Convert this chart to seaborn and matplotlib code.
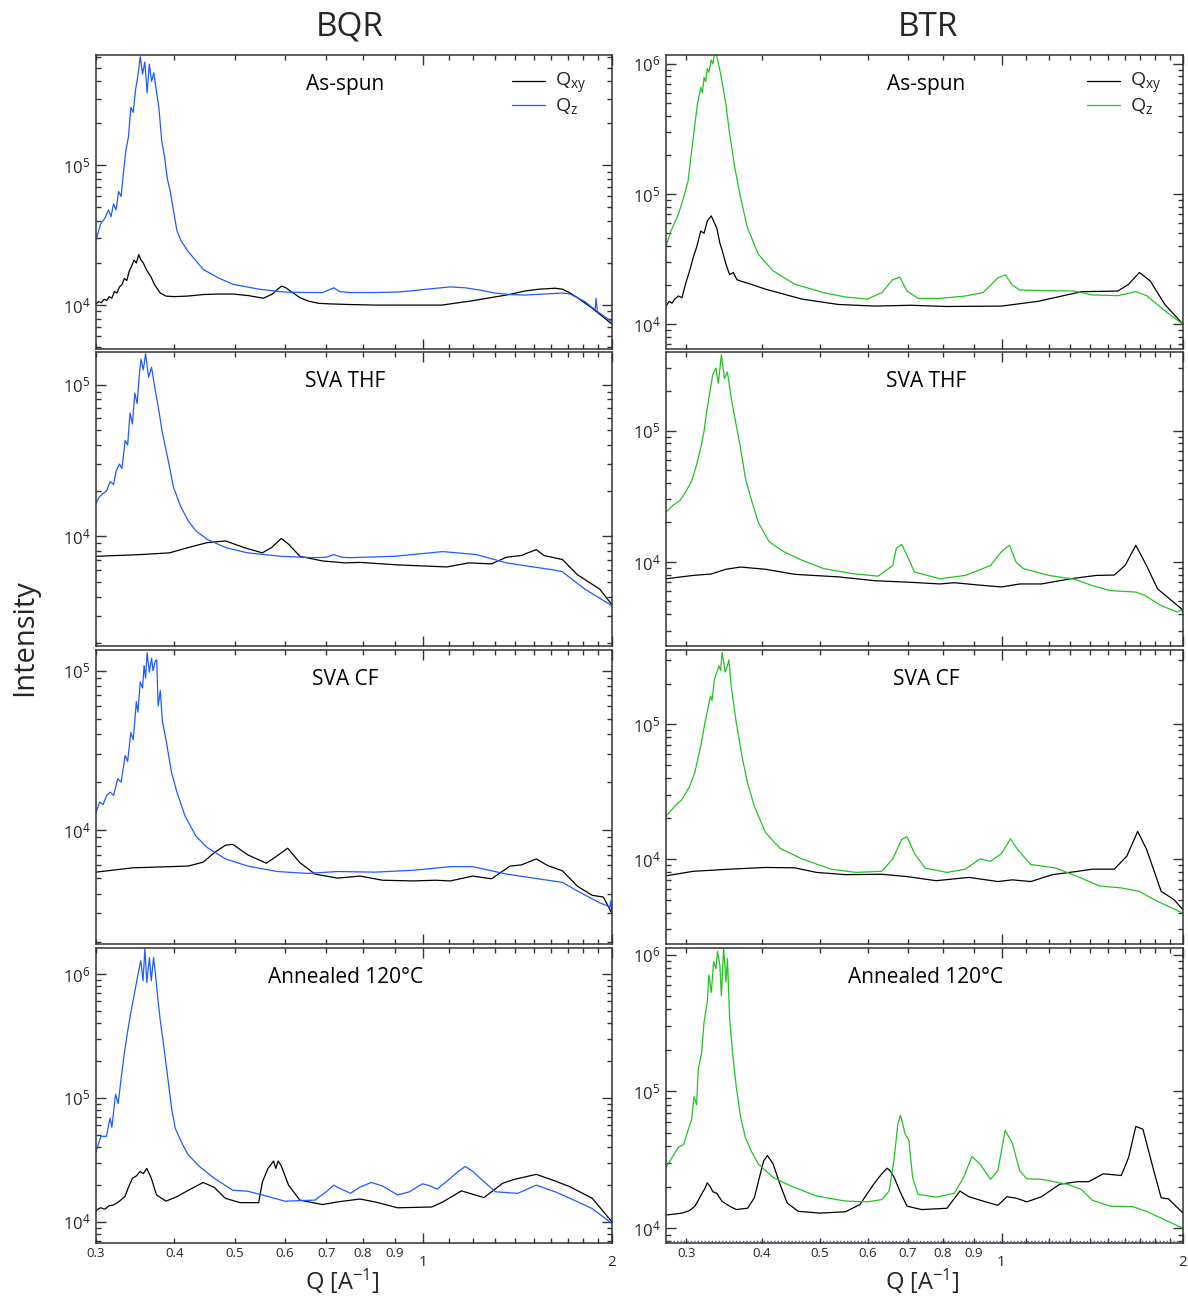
import numpy as np
import pandas as pd
import matplotlib
matplotlib.use('Agg')
import matplotlib.pyplot as plt
import seaborn as sns
from matplotlib.ticker import (FixedLocator, FixedFormatter, LogLocator,
                               NullFormatter, LogFormatterSciNotation)

sns.set_style('ticks')
plt.rcParams['font.family'] = ['Open Sans', 'DejaVu Sans']
plt.rcParams['mathtext.fontset'] = 'custom'
plt.rcParams['mathtext.rm'] = 'Open Sans'
plt.rcParams['mathtext.it'] = 'Open Sans'
plt.rcParams['mathtext.bf'] = 'Open Sans:bold'

# ---------------- data: BQR (left column) ----------------
# As-spun
q1z = [0.300, 0.305, 0.310, 0.314, 0.317, 0.320, 0.323, 0.326, 0.329, 0.332,
       0.335, 0.338, 0.341, 0.344, 0.347, 0.350, 0.353, 0.356, 0.359, 0.362,
       0.365, 0.368, 0.371, 0.375, 0.378, 0.382, 0.386, 0.390, 0.394, 0.399,
       0.404, 0.410, 0.420, 0.445, 0.470, 0.496, 0.546, 0.600, 0.653, 0.690,
       0.705, 0.719, 0.735, 0.760, 0.837, 0.910, 0.963, 1.030, 1.104, 1.166,
       1.232, 1.300, 1.375, 1.453, 1.557, 1.667, 1.714, 1.761, 1.810, 1.860,
       1.880, 1.886, 1.895, 1.938, 2.000]
I1z = [2.9e4, 3.8e4, 4.2e4, 4.8e4, 4.3e4, 5.3e4, 4.8e4, 6.5e4, 6.0e4, 9.0e4,
       1.3e5, 1.6e5, 2.6e5, 2.4e5, 3.5e5, 4.4e5, 6.0e5, 4.5e5, 5.5e5, 3.3e5,
       5.3e5, 4.0e5, 4.6e5, 3.3e5, 2.6e5, 1.5e5, 1.15e5, 8.0e4, 6.6e4, 4.7e4,
       3.4e4, 2.9e4, 2.45e4, 1.8e4, 1.57e4, 1.41e4, 1.3e4, 1.24e4, 1.23e4, 1.23e4,
       1.28e4, 1.33e4, 1.25e4, 1.23e4, 1.23e4, 1.24e4, 1.27e4, 1.31e4, 1.35e4, 1.33e4,
       1.28e4, 1.22e4, 1.19e4, 1.18e4, 1.2e4, 1.22e4, 1.2e4, 1.13e4, 1.06e4, 9.6e3,
       9.3e3, 1.12e4, 9.0e3, 8.4e3, 7.6e3]
q1x = [0.300, 0.303, 0.306, 0.309, 0.312, 0.315, 0.318, 0.321, 0.324, 0.327,
       0.330, 0.333, 0.336, 0.339, 0.342, 0.345, 0.348, 0.351, 0.354, 0.357,
       0.362, 0.367, 0.372, 0.380, 0.388, 0.400, 0.420, 0.445, 0.470, 0.496,
       0.525, 0.555, 0.574, 0.585, 0.594, 0.603, 0.615, 0.635, 0.654, 0.680,
       0.709, 0.760, 0.837, 0.960, 1.070, 1.190, 1.280, 1.370, 1.450, 1.530,
       1.622, 1.667, 1.714, 1.761, 1.860, 2.000]
I1x = [1.02e4, 1.06e4, 1.04e4, 1.1e4, 1.08e4, 1.15e4, 1.12e4, 1.25e4, 1.22e4, 1.35e4,
       1.4e4, 1.55e4, 1.5e4, 1.75e4, 1.9e4, 2.1e4, 2.0e4, 2.3e4, 2.1e4, 2.0e4,
       1.76e4, 1.6e4, 1.4e4, 1.22e4, 1.16e4, 1.15e4, 1.16e4, 1.19e4, 1.2e4, 1.2e4,
       1.17e4, 1.12e4, 1.2e4, 1.3e4, 1.37e4, 1.33e4, 1.25e4, 1.13e4, 1.07e4, 1.03e4,
       1.02e4, 1.01e4, 1.0e4, 1.0e4, 1.0e4, 1.07e4, 1.13e4, 1.19e4, 1.26e4, 1.3e4,
       1.32e4, 1.3e4, 1.22e4, 1.13e4, 9.5e3, 7.3e3]
# SVA THF
q2z = [0.300, 0.303, 0.307, 0.312, 0.316, 0.320, 0.323, 0.327, 0.330, 0.334,
       0.337, 0.340, 0.343, 0.346, 0.349, 0.352, 0.354, 0.357, 0.360, 0.364,
       0.368, 0.372, 0.377, 0.383, 0.391, 0.399, 0.410, 0.421, 0.433, 0.451,
       0.483, 0.524, 0.593, 0.671, 0.700, 0.719, 0.740, 0.760, 0.897, 1.074,
       1.215, 1.357, 1.622, 1.667, 1.810, 2.000]
I2z = [1.64e4, 1.8e4, 1.9e4, 2.0e4, 2.3e4, 2.2e4, 2.7e4, 3.0e4, 2.8e4, 4.3e4,
       4.0e4, 6.5e4, 5.5e4, 8.8e4, 7.5e4, 1.2e5, 1.47e5, 1.25e5, 1.6e5, 1.12e5,
       1.3e5, 9.8e4, 7.2e4, 4.8e4, 3.2e4, 2.1e4, 1.56e4, 1.27e4, 1.09e4, 9.6e3,
       8.45e3, 7.8e3, 7.4e3, 7.25e3, 7.3e3, 7.6e3, 7.3e3, 7.25e3, 7.4e3, 7.95e3,
       7.6e3, 6.7e3, 6.0e3, 5.85e3, 4.5e3, 3.5e3]
q2x = [0.300, 0.353, 0.393, 0.421, 0.451, 0.483, 0.517, 0.553, 0.572, 0.593,
       0.609, 0.635, 0.690, 0.749, 0.792, 0.909, 1.089, 1.182, 1.284, 1.357,
       1.433, 1.514, 1.557, 1.667, 1.761, 1.912, 2.000]
I2x = [7.4e3, 7.6e3, 7.8e3, 8.45e3, 9.1e3, 9.35e3, 8.45e3, 7.8e3, 8.45e3, 9.7e3,
       8.9e3, 7.4e3, 6.9e3, 6.7e3, 6.75e3, 6.5e3, 6.3e3, 6.7e3, 6.6e3, 7.3e3,
       7.5e3, 8.2e3, 7.5e3, 7.05e3, 5.6e3, 4.5e3, 3.55e3]
# SVA CF
q3z = [0.300, 0.304, 0.308, 0.312, 0.316, 0.320, 0.325, 0.329, 0.334, 0.337,
       0.341, 0.344, 0.348, 0.350, 0.353, 0.356, 0.358, 0.360, 0.362, 0.365,
       0.368, 0.370, 0.373, 0.375, 0.377, 0.380, 0.383, 0.388, 0.396, 0.404,
       0.416, 0.433, 0.451, 0.483, 0.524, 0.584, 0.653, 0.729, 0.837, 0.963,
       1.104, 1.198, 1.357, 1.667, 1.761, 1.912, 1.985, 1.990, 2.000]
I3z = [1.29e4, 1.5e4, 1.45e4, 1.65e4, 1.73e4, 1.65e4, 2.1e4, 2.0e4, 2.94e4, 2.7e4,
       4.1e4, 3.7e4, 6.4e4, 5.5e4, 8.5e4, 7.8e4, 1.08e5, 9.0e4, 1.3e5, 9.8e4,
       1.2e5, 1.0e5, 1.15e5, 1.17e5, 6.0e4, 7.5e4, 4.8e4, 3.7e4, 2.3e4, 1.73e4,
       1.23e4, 9.2e3, 7.8e3, 6.6e3, 5.95e3, 5.5e3, 5.35e3, 5.5e3, 5.45e3, 5.6e3,
       5.9e3, 5.9e3, 5.3e3, 4.7e3, 4.15e3, 3.5e3, 3.3e3, 3.6e3, 3.0e3]
q3x = [0.300, 0.343, 0.421, 0.445, 0.463, 0.483, 0.496, 0.524, 0.561, 0.584,
       0.607, 0.635, 0.671, 0.729, 0.792, 0.860, 0.963, 1.045, 1.104, 1.198,
       1.284, 1.375, 1.433, 1.514, 1.578, 1.667, 1.761, 1.860, 1.938, 2.000]
I3x = [5.45e3, 5.8e3, 5.95e3, 6.3e3, 7.2e3, 8.05e3, 8.15e3, 7.0e3, 6.2e3, 6.9e3,
       7.7e3, 6.25e3, 5.3e3, 5.0e3, 5.15e3, 4.85e3, 4.8e3, 4.85e3, 4.8e3, 5.15e3,
       4.95e3, 5.95e3, 6.05e3, 6.6e3, 6.0e3, 5.55e3, 4.45e3, 3.9e3, 3.8e3, 3.0e3]
# Annealed 120 C
q4z = [0.300, 0.3054, 0.3117, 0.316, 0.318, 0.3224, 0.3255, 0.3291, 0.3327, 0.3359,
       0.3405, 0.3454, 0.3502, 0.3537, 0.3566, 0.3591, 0.3616, 0.3651, 0.3676, 0.3707,
       0.3733, 0.3764, 0.380, 0.3853, 0.3906, 0.396, 0.4014, 0.4126, 0.4212, 0.4388,
       0.4634, 0.496, 0.5236, 0.5531, 0.6007, 0.671, 0.6994, 0.719, 0.729, 0.765,
       0.790, 0.8253, 0.860, 0.9094, 0.950, 0.996, 1.020, 1.052, 1.104, 1.130,
       1.166, 1.200, 1.232, 1.302, 1.414, 1.514, 1.622, 1.714, 1.860, 2.000]
I4z = [3.7e4, 4.9e4, 4.9e4, 6.9e4, 5.8e4, 1.07e5, 9.0e4, 1.45e5, 2.24e5, 3.1e5,
       4.7e5, 6.9e5, 1.0e6, 1.28e6, 8.8e5, 1.6e6, 8.5e5, 1.36e6, 8.8e5, 1.36e6,
       1.0e6, 6.5e5, 4.2e5, 2.5e5, 1.45e5, 8.3e4, 5.7e4, 4.2e4, 3.47e4, 2.8e4,
       2.25e4, 1.8e4, 1.77e4, 1.65e4, 1.47e4, 1.5e4, 1.75e4, 1.98e4, 1.9e4, 1.7e4,
       1.9e4, 2.08e4, 1.95e4, 1.65e4, 1.75e4, 2.03e4, 1.97e4, 1.84e4, 2.25e4, 2.5e4,
       2.8e4, 2.55e4, 2.25e4, 1.75e4, 1.7e4, 1.98e4, 1.75e4, 1.55e4, 1.28e4, 9.7e3]
q4x = [0.300, 0.305, 0.310, 0.315, 0.320, 0.326, 0.3336, 0.338, 0.343, 0.348,
       0.3527, 0.357, 0.3616, 0.3676, 0.3748, 0.388, 0.4042, 0.4212, 0.4449, 0.4634,
       0.4827, 0.5096, 0.5455, 0.5531, 0.5646, 0.5764, 0.581, 0.586, 0.5925, 0.609,
       0.6347, 0.6898, 0.729, 0.7917, 0.8367, 0.9094, 1.031, 1.074, 1.15, 1.249,
       1.338, 1.395, 1.514, 1.622, 1.714, 1.860, 2.000]
I4x = [1.24e4, 1.3e4, 1.27e4, 1.35e4, 1.37e4, 1.45e4, 1.6e4, 1.9e4, 2.25e4, 2.35e4,
       2.55e4, 2.45e4, 2.7e4, 2.25e4, 1.65e4, 1.47e4, 1.6e4, 1.8e4, 2.08e4, 1.9e4,
       1.55e4, 1.43e4, 1.43e4, 2.1e4, 2.7e4, 3.1e4, 2.7e4, 3.1e4, 2.85e4, 1.98e4,
       1.5e4, 1.38e4, 1.45e4, 1.53e4, 1.45e4, 1.3e4, 1.32e4, 1.45e4, 1.78e4, 1.57e4,
       2.05e4, 2.2e4, 2.42e4, 2.14e4, 1.92e4, 1.55e4, 1.0e4]

# ---------------- data: BTR (right column) ----------------
q5z = [0.2776, 0.283, 0.291, 0.297, 0.302, 0.306, 0.310, 0.313, 0.317, 0.319,
       0.321, 0.323, 0.325, 0.327, 0.330, 0.332, 0.334, 0.337, 0.342, 0.349,
       0.354, 0.361, 0.369, 0.379, 0.395, 0.418, 0.454, 0.507, 0.551, 0.599,
       0.633, 0.660, 0.678, 0.697, 0.727, 0.790, 0.871, 0.932, 0.986, 1.014,
       1.042, 1.072, 1.320, 1.415, 1.559, 1.670, 1.740, 1.866, 2.000]
I5z = [4.0e4, 5.2e4, 7.0e4, 9.4e4, 1.26e5, 2.1e5, 3.45e5, 4.9e5, 6.6e5, 6.0e5,
       7.9e5, 7.3e5, 9.2e5, 8.6e5, 1.07e6, 1.0e6, 1.2e6, 1.15e6, 8.4e5, 4.9e5,
       2.9e5, 1.6e5, 9.4e4, 5.5e4, 3.45e4, 2.57e4, 2.03e4, 1.75e4, 1.62e4, 1.56e4,
       1.75e4, 2.2e4, 2.3e4, 1.8e4, 1.58e4, 1.58e4, 1.65e4, 1.75e4, 2.27e4, 2.4e4,
       2.0e4, 1.83e4, 1.8e4, 1.68e4, 1.66e4, 1.78e4, 1.66e4, 1.27e4, 1.0e4]
q5x = [0.2776, 0.281, 0.284, 0.287, 0.291, 0.295, 0.299, 0.304, 0.308, 0.312,
       0.317, 0.321, 0.325, 0.330, 0.334, 0.337, 0.341, 0.344, 0.349, 0.354,
       0.359, 0.364, 0.369, 0.384, 0.406, 0.467, 0.536, 0.616, 0.707, 0.812,
       1.000, 1.149, 1.357, 1.559, 1.625, 1.693, 1.765, 1.866, 2.000]
I5x = [1.38e4, 1.5e4, 1.45e4, 1.56e4, 1.65e4, 1.6e4, 2.03e4, 2.6e4, 3.25e4, 3.9e4,
       5.2e4, 5.0e4, 6.2e4, 6.8e4, 6.0e4, 5.5e4, 4.2e4, 3.7e4, 2.9e4, 2.4e4,
       2.5e4, 2.2e4, 2.15e4, 2.03e4, 1.86e4, 1.56e4, 1.42e4, 1.38e4, 1.4e4, 1.37e4,
       1.38e4, 1.5e4, 1.78e4, 1.8e4, 2.03e4, 2.5e4, 2.15e4, 1.42e4, 1.0e4]
q6z = [0.2776, 0.285, 0.293, 0.299, 0.306, 0.312, 0.317, 0.321, 0.325, 0.329,
       0.332, 0.336, 0.339, 0.343, 0.347, 0.351, 0.356, 0.362, 0.369, 0.376,
       0.384, 0.395, 0.412, 0.435, 0.467, 0.507, 0.566, 0.624, 0.660, 0.669,
       0.683, 0.697, 0.717, 0.790, 0.871, 0.959, 1.000, 1.031, 1.057, 1.087,
       1.198, 1.320, 1.415, 1.517, 1.670, 1.728, 1.840, 1.959, 1.986, 2.000]
I6z = [2.4e4, 2.7e4, 2.95e4, 3.4e4, 4.1e4, 5.5e4, 7.4e4, 9.9e4, 1.5e5, 2.1e5,
       2.7e5, 3.0e5, 2.3e5, 3.8e5, 2.5e5, 2.8e5, 1.78e5, 1.18e5, 7.4e4, 4.35e4,
       3.05e4, 2.0e4, 1.42e4, 1.2e4, 1.03e4, 8.9e3, 8.15e3, 7.8e3, 9.4e3, 1.27e4,
       1.36e4, 1.12e4, 8.4e3, 7.45e3, 7.9e3, 9.4e3, 1.2e4, 1.34e4, 1.0e4, 8.9e3,
       7.9e3, 7.4e3, 6.6e3, 6.05e3, 5.9e3, 5.56e3, 4.65e3, 4.15e3, 4.3e3, 4.1e3]
q6x = [0.2776, 0.308, 0.330, 0.349, 0.369, 0.406, 0.454, 0.536, 0.616, 0.707,
       0.790, 0.835, 0.908, 1.000, 1.072, 1.165, 1.302, 1.435, 1.538, 1.603,
       1.670, 1.740, 1.814, 2.000]
I6x = [7.45e3, 7.9e3, 8.1e3, 8.8e3, 9.15e3, 8.8e3, 8.05e3, 7.7e3, 7.2e3, 7.0e3,
       6.8e3, 6.95e3, 6.7e3, 6.45e3, 6.8e3, 6.8e3, 7.45e3, 7.9e3, 7.95e3, 9.4e3,
       1.34e4, 9.4e3, 6.25e3, 4.3e3]
q7z = [0.2776, 0.287, 0.295, 0.304, 0.310, 0.317, 0.323, 0.329, 0.331, 0.334,
       0.337, 0.340, 0.342, 0.344, 0.348, 0.351, 0.353, 0.356, 0.363, 0.371,
       0.379, 0.389, 0.406, 0.429, 0.467, 0.521, 0.574, 0.633, 0.660, 0.683,
       0.697, 0.717, 0.747, 0.812, 0.871, 0.921, 0.959, 1.000, 1.035, 1.064,
       1.118, 1.232, 1.338, 1.455, 1.580, 1.693, 1.789, 2.000]
I7z = [2.08e4, 2.46e4, 2.76e4, 3.47e4, 4.4e4, 6.9e4, 1.09e5, 1.62e5, 1.5e5, 2.16e5,
       2.43e5, 2.7e5, 2.5e5, 3.4e5, 2.43e5, 2.7e5, 3.0e5, 1.93e5, 1.03e5, 5.8e4,
       3.67e4, 2.46e4, 1.57e4, 1.2e4, 1.0e4, 8.4e3, 7.95e3, 8.1e3, 1.0e4, 1.4e4,
       1.46e4, 1.1e4, 8.55e3, 7.95e3, 8.4e3, 1.0e4, 9.6e3, 1.1e4, 1.41e4, 1.17e4,
       9.1e3, 8.55e3, 7.4e3, 6.3e3, 6.1e3, 5.75e3, 5.0e3, 3.96e3]
q7x = [0.2776, 0.308, 0.354, 0.406, 0.454, 0.493, 0.551, 0.633, 0.697, 0.779,
       0.883, 0.986, 1.042, 1.118, 1.215, 1.338, 1.415, 1.538, 1.614, 1.682,
       1.740, 1.840, 1.932, 2.000]
I7x = [7.5e3, 8.1e3, 8.4e3, 8.65e3, 8.6e3, 7.95e3, 7.65e3, 7.7e3, 7.4e3, 6.9e3,
       7.3e3, 6.8e3, 7.0e3, 6.8e3, 7.65e3, 8.1e3, 8.4e3, 8.4e3, 1.05e4, 1.6e4,
       1.18e4, 5.75e3, 5.0e3, 4.2e3]
q8z = [0.2776, 0.283, 0.291, 0.297, 0.302, 0.306, 0.309, 0.312, 0.314, 0.318,
       0.321, 0.325, 0.327, 0.330, 0.333, 0.336, 0.338, 0.341, 0.343, 0.346,
       0.349, 0.351, 0.354, 0.358, 0.363, 0.369, 0.376, 0.384, 0.395, 0.418,
       0.448, 0.493, 0.551, 0.599, 0.633, 0.651, 0.664, 0.673, 0.680, 0.692,
       0.702, 0.712, 0.727, 0.779, 0.835, 0.865, 0.893, 0.921, 0.959, 0.986,
       1.014, 1.042, 1.072, 1.102, 1.165, 1.284, 1.357, 1.415, 1.517, 1.648,
       1.740, 1.866, 2.000]
I8z = [2.78e4, 3.2e4, 3.9e4, 4.1e4, 5.2e4, 6.2e4, 9.2e4, 8.0e4, 1.45e5, 1.9e5,
       3.2e5, 4.5e5, 7.1e5, 5.3e5, 8.9e5, 7.9e5, 1.06e6, 8.4e5, 5.0e5, 1.12e6,
       6.3e5, 9.4e5, 3.4e5, 1.9e5, 1.09e5, 6.5e4, 4.6e4, 3.7e4, 2.95e4, 2.35e4,
       2.03e4, 1.72e4, 1.58e4, 1.56e4, 1.62e4, 1.87e4, 3.3e4, 5.8e4, 6.7e4, 4.9e4,
       4.4e4, 2.35e4, 1.77e4, 1.69e4, 1.8e4, 2.35e4, 3.35e4, 2.95e4, 2.28e4, 2.63e4,
       5.2e4, 4.2e4, 2.63e4, 2.3e4, 2.28e4, 2.1e4, 1.92e4, 1.6e4, 1.45e4, 1.44e4,
       1.33e4, 1.15e4, 1.0e4]
q8x = [0.2776, 0.287, 0.295, 0.304, 0.310, 0.314, 0.319, 0.322, 0.325, 0.329,
       0.332, 0.337, 0.344, 0.354, 0.363, 0.379, 0.389, 0.398, 0.403, 0.409,
       0.418, 0.429, 0.441, 0.460, 0.500, 0.551, 0.582, 0.616, 0.633, 0.646,
       0.655, 0.664, 0.678, 0.697, 0.737, 0.812, 0.853, 0.883, 0.932, 0.986,
       1.021, 1.057, 1.102, 1.165, 1.249, 1.338, 1.395, 1.475, 1.580, 1.625,
       1.670, 1.716, 1.789, 1.840, 1.892, 2.000]
I8x = [1.25e4, 1.27e4, 1.29e4, 1.35e4, 1.45e4, 1.6e4, 1.82e4, 1.95e4, 2.15e4, 2.0e4,
       1.85e4, 1.8e4, 1.57e4, 1.45e4, 1.37e4, 1.4e4, 1.67e4, 2.5e4, 3.1e4, 3.4e4,
       2.95e4, 2.1e4, 1.53e4, 1.33e4, 1.29e4, 1.32e4, 1.49e4, 2.15e4, 2.5e4, 2.75e4,
       2.6e4, 2.34e4, 1.87e4, 1.45e4, 1.37e4, 1.4e4, 1.87e4, 1.7e4, 1.58e4, 1.47e4,
       1.7e4, 1.66e4, 1.56e4, 1.7e4, 2.1e4, 2.19e4, 2.19e4, 2.5e4, 2.43e4, 3.3e4,
       5.55e4, 5.3e4, 2.63e4, 1.67e4, 1.64e4, 1.29e4]
btr_baseline = 8.0e3   # dotted reference level in the last BTR panel

columns = ['BQR', 'BTR']
conditions = ['As-spun', 'SVA THF', 'SVA CF', 'Annealed 120°C']
x_minor_ticks = [0.3, 0.4, 0.5, 0.6, 0.7, 0.8, 0.9, 1.1, 1.2, 1.3, 1.4, 1.5, 1.6, 1.7, 1.8, 1.9]
x_minor_labels = ['0.3', '0.4', '0.5', '0.6', '0.7', '0.8', '0.9'] + [''] * 9
x_major_ticks = [1, 2]
x_major_labels = ['1', '2']
legend_labels = [r'Q$_{\mathrm{xy}}$', r'Q$_{\mathrm{z}}$']

curves = {
    (0, 0): (q1x, I1x, q1z, I1z), (0, 1): (q2x, I2x, q2z, I2z),
    (0, 2): (q3x, I3x, q3z, I3z), (0, 3): (q4x, I4x, q4z, I4z),
    (1, 0): (q5x, I5x, q5z, I5z), (1, 1): (q6x, I6x, q6z, I6z),
    (1, 2): (q7x, I7x, q7z, I7z), (1, 3): (q8x, I8x, q8z, I8z),
}
ylims = {
    (0, 0): (4.85e3, 6.17e5), (0, 1): (1.9e3, 1.64e5),
    (0, 2): (1.93e3, 1.35e5), (0, 3): (6.76e3, 1.62e6),
    (1, 0): (6.46e3, 1.17e6), (1, 1): (2.29e3, 3.98e5),
    (1, 2): (2.34e3, 3.55e5), (1, 3): (7.8e3, 1.12e6),
}
xlims = [(0.3, 2.0), (0.2776, 2.0)]
zcolors = ['#1f5bff', '#22c322']

W, H = 1188, 1300
fig = plt.figure(figsize=(W / 100, H / 100), dpi=100)
col_x = [(96, 612), (666, 1183)]
row_y = [(55, 349), (352, 646), (650, 944), (948, 1243)]

for c in range(2):
    for r in range(4):
        x0, x1 = col_x[c]
        y0, y1 = row_y[r]
        ax = fig.add_axes([x0 / W, 1 - y1 / H, (x1 - x0) / W, (y1 - y0) / H])
        qx, Ix, qz, Iz = curves[(c, r)]
        dfx = pd.DataFrame({'Q': qx, 'I': Ix})
        dfz = pd.DataFrame({'Q': qz, 'I': Iz})
        sns.lineplot(data=dfx, x='Q', y='I', ax=ax, color='black', lw=0.9,
                     estimator=None, sort=False, label=legend_labels[0] if r == 0 else None)
        sns.lineplot(data=dfz, x='Q', y='I', ax=ax, color=zcolors[c], lw=0.9,
                     estimator=None, sort=False, label=legend_labels[1] if r == 0 else None)
        if c == 1 and r == 3:
            ax.axhline(btr_baseline, color='#3355ff', lw=1.0, ls=(0, (1, 1.5)))
        ax.set_xscale('log')
        ax.set_yscale('log')
        ax.set_xlim(*xlims[c])
        ax.set_ylim(*ylims[(c, r)])
        ax.set_xlabel('')
        ax.set_ylabel('')
        ax.xaxis.set_major_locator(FixedLocator(x_major_ticks))
        ax.xaxis.set_minor_locator(FixedLocator(x_minor_ticks))
        ax.xaxis.set_major_formatter(FixedFormatter(x_major_labels))
        ax.xaxis.set_minor_formatter(FixedFormatter(x_minor_labels))
        ax.yaxis.set_major_locator(LogLocator(base=10))
        ax.yaxis.set_minor_locator(LogLocator(base=10, subs=np.arange(2, 10)))
        ax.yaxis.set_major_formatter(LogFormatterSciNotation())
        ax.yaxis.set_minor_formatter(NullFormatter())
        ax.tick_params(axis='both', which='both', direction='in', top=True, right=True,
                       color='#333333', width=1.0)
        ax.tick_params(axis='both', which='major', length=7)
        ax.tick_params(axis='both', which='minor', length=3.5)
        ax.tick_params(axis='y', which='major', labelsize=12, pad=4)
        if r == 3:
            ax.tick_params(axis='x', which='minor', labelsize=9.5, pad=3)
            ax.tick_params(axis='x', which='major', labelsize=11, pad=9)
        else:
            ax.tick_params(axis='x', which='both', labelbottom=False)
        for sp in ax.spines.values():
            sp.set_visible(True)
            sp.set_color('#333333')
            sp.set_linewidth(1.1)
        ax.text(0.483 if c == 0 else 0.503, 0.90, conditions[r], transform=ax.transAxes,
                ha='center', va='center', fontsize=15, color='black')
        if r == 0:
            ax.legend(loc='upper left',
                      bbox_to_anchor=((0.806, 0.945) if c == 0 else (0.815, 0.945)),
                      frameon=False, fontsize=14, handlelength=1.7,
                      handletextpad=0.5, labelspacing=0.0, borderpad=0,
                      borderaxespad=0)
        else:
            lg = ax.get_legend()
            if lg is not None:
                lg.remove()

fig.text(350 / W, 1 - 27 / H, columns[0], ha='center', va='center', fontsize=24)
fig.text(928 / W, 1 - 27 / H, columns[1], ha='center', va='center', fontsize=24)
fig.text(25 / W, 1 - 638 / H, 'Intensity', ha='center', va='center', rotation=90, fontsize=21)
fig.text(342 / W, 1 - 1281 / H, r'Q [A$^{-1}$]', ha='center', va='center', fontsize=17)
fig.text(922 / W, 1 - 1281 / H, r'Q [A$^{-1}$]', ha='center', va='center', fontsize=17)

fig.savefig('out.png', dpi=100)
